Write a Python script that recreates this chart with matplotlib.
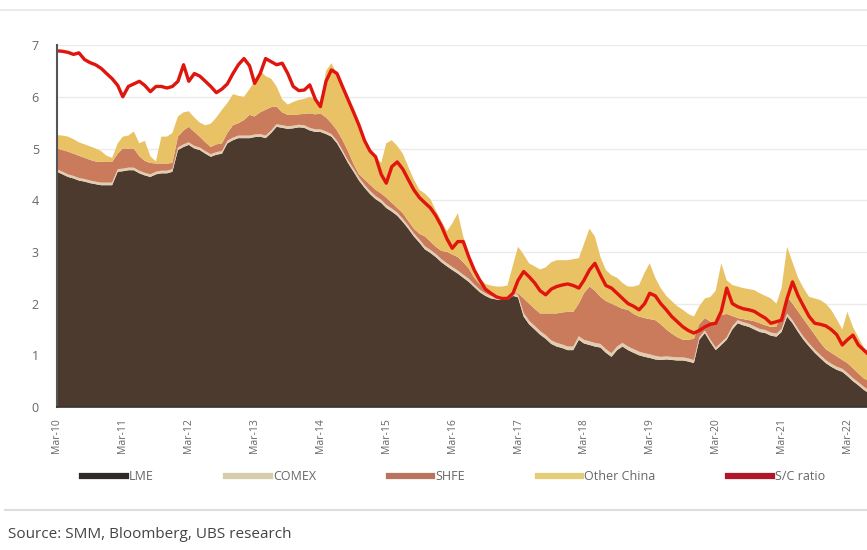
import numpy as np
import pandas as pd
import matplotlib
matplotlib.use("Agg")
import matplotlib.pyplot as plt
import matplotlib.dates as mdates
from matplotlib.lines import Line2D

plt.rcParams["font.family"] = ["Open Sans", "DejaVu Sans"]

# monthly, Mar-10 onwards
start = "2010-03-01"

# cumulative tops of the stack
lme_top = [
    4.55, 4.50, 4.45, 4.42, 4.38, 4.36, 4.33, 4.31, 4.29, 4.29, 4.29, 4.55, 4.56, 4.58, 4.58, 4.52,
    4.48, 4.45, 4.50, 4.52, 4.52, 4.55, 4.97, 5.03, 5.07, 5.00, 4.97, 4.90, 4.84, 4.88, 4.90, 5.10,
    5.16, 5.20, 5.20, 5.20, 5.22, 5.23, 5.20, 5.30, 5.42, 5.40, 5.38, 5.39, 5.41, 5.40, 5.35, 5.32,
    5.32, 5.28, 5.23, 5.10, 4.92, 4.72, 4.55, 4.38, 4.24, 4.12, 4.02, 3.95, 3.85, 3.78, 3.70, 3.58,
    3.45, 3.30, 3.18, 3.05, 2.98, 2.90, 2.80, 2.72, 2.65, 2.58, 2.50, 2.42, 2.32, 2.22, 2.15, 2.10,
    2.08, 2.07, 2.07, 2.15, 2.12, 1.75, 1.60, 1.50, 1.40, 1.32, 1.22, 1.17, 1.14, 1.10, 1.10, 1.30,
    1.23, 1.20, 1.17, 1.15, 1.05, 0.97, 1.10, 1.17, 1.10, 1.05, 1.00, 0.97, 0.95, 0.92, 0.91, 0.92,
    0.91, 0.90, 0.90, 0.88, 0.85, 1.30, 1.43, 1.25, 1.10, 1.20, 1.30, 1.50, 1.62, 1.58, 1.55, 1.50,
    1.45, 1.43, 1.38, 1.36, 1.45, 1.75, 1.62, 1.45, 1.30, 1.17, 1.05, 0.95, 0.85, 0.78, 0.72, 0.68,
    0.60, 0.50, 0.42, 0.33, 0.26,
]
comex = [
    0.05, 0.05, 0.05, 0.05, 0.05, 0.05, 0.05, 0.05, 0.05, 0.05, 0.05, 0.05, 0.05, 0.05, 0.05, 0.05,
    0.05, 0.05, 0.05, 0.05, 0.05, 0.05, 0.05, 0.05, 0.05, 0.05, 0.05, 0.05, 0.05, 0.05, 0.05, 0.05,
    0.05, 0.05, 0.05, 0.05, 0.05, 0.05, 0.05, 0.05, 0.05, 0.05, 0.05, 0.05, 0.05, 0.05, 0.05, 0.05,
    0.05, 0.05, 0.05, 0.05, 0.05, 0.05, 0.06, 0.06, 0.06, 0.06, 0.06, 0.06, 0.06, 0.06, 0.06, 0.06,
    0.06, 0.06, 0.06, 0.06, 0.06, 0.06, 0.06, 0.06, 0.06, 0.06, 0.06, 0.06, 0.05, 0.05, 0.05, 0.05,
    0.05, 0.05, 0.05, 0.05, 0.05, 0.07, 0.07, 0.07, 0.07, 0.07, 0.07, 0.07, 0.07, 0.07, 0.07, 0.07,
    0.07, 0.07, 0.07, 0.07, 0.07, 0.07, 0.07, 0.07, 0.07, 0.07, 0.07, 0.07, 0.07, 0.07, 0.06, 0.06,
    0.06, 0.06, 0.06, 0.06, 0.06, 0.05, 0.05, 0.05, 0.05, 0.05, 0.05, 0.06, 0.06, 0.06, 0.06, 0.06,
    0.06, 0.06, 0.06, 0.06, 0.06, 0.06, 0.06, 0.06, 0.06, 0.06, 0.06, 0.06, 0.06, 0.06, 0.06, 0.06,
    0.06, 0.06, 0.06, 0.06, 0.06,
]
shfe_top = [
    5.00, 4.97, 4.94, 4.90, 4.86, 4.82, 4.78, 4.75, 4.74, 4.74, 4.74, 4.90, 5.00, 5.00, 5.00, 4.85,
    4.76, 4.72, 4.71, 4.71, 4.71, 4.72, 5.23, 5.35, 5.42, 5.32, 5.23, 5.12, 5.03, 5.08, 5.10, 5.30,
    5.45, 5.49, 5.55, 5.65, 5.62, 5.70, 5.75, 5.80, 5.81, 5.70, 5.65, 5.65, 5.66, 5.67, 5.68, 5.66,
    5.68, 5.60, 5.49, 5.35, 5.17, 4.95, 4.70, 4.50, 4.40, 4.30, 4.20, 4.13, 4.05, 3.95, 3.85, 3.75,
    3.60, 3.45, 3.35, 3.30, 3.20, 3.10, 3.02, 3.00, 2.95, 2.90, 2.80, 2.68, 2.50, 2.38, 2.30, 2.20,
    2.13, 2.13, 2.13, 2.20, 2.20, 2.10, 2.00, 1.90, 1.81, 1.81, 1.81, 1.81, 1.83, 1.84, 1.84, 2.00,
    2.20, 2.33, 2.25, 2.13, 2.05, 2.00, 1.95, 1.90, 1.88, 1.80, 1.75, 1.72, 1.70, 1.68, 1.60, 1.50,
    1.42, 1.35, 1.30, 1.30, 1.32, 1.60, 1.72, 1.65, 1.62, 1.78, 1.80, 1.76, 1.72, 1.70, 1.68, 1.66,
    1.62, 1.58, 1.55, 1.56, 1.80, 2.13, 2.00, 1.85, 1.70, 1.55, 1.40, 1.25, 1.12, 1.05, 0.98, 0.91,
    0.85, 0.75, 0.65, 0.55, 0.50,
]
total_top = [
    5.26, 5.25, 5.23, 5.18, 5.12, 5.08, 5.04, 5.00, 4.95, 4.86, 4.82, 5.10, 5.23, 5.25, 5.33, 5.10,
    5.15, 4.85, 4.75, 5.23, 5.23, 5.30, 5.62, 5.70, 5.72, 5.60, 5.50, 5.45, 5.48, 5.60, 5.75, 5.88,
    6.05, 6.02, 6.00, 6.15, 6.30, 6.50, 6.40, 6.35, 6.20, 5.95, 5.85, 5.90, 5.94, 5.96, 6.00, 5.95,
    5.81, 6.50, 6.65, 6.45, 6.20, 6.00, 5.70, 5.45, 5.20, 5.00, 4.84, 4.72, 5.10, 5.16, 5.05, 4.90,
    4.65, 4.40, 4.20, 4.13, 4.02, 3.80, 3.60, 3.40, 3.55, 3.75, 3.30, 2.95, 2.70, 2.50, 2.38, 2.35,
    2.33, 2.33, 2.35, 2.75, 3.10, 2.95, 2.78, 2.72, 2.66, 2.70, 2.80, 2.84, 2.84, 2.84, 2.86, 2.88,
    3.15, 3.45, 3.30, 2.90, 2.65, 2.55, 2.50, 2.40, 2.33, 2.33, 2.36, 2.60, 2.78, 2.50, 2.30, 2.15,
    2.05, 1.95, 1.88, 1.80, 1.75, 1.95, 2.10, 2.13, 2.25, 2.78, 2.45, 2.36, 2.33, 2.30, 2.28, 2.26,
    2.20, 2.15, 2.10, 2.00, 2.30, 3.10, 2.80, 2.50, 2.30, 2.13, 2.10, 2.07, 2.00, 1.88, 1.70, 1.50,
    1.84, 1.55, 1.35, 1.15, 1.05,
]
sc_ratio = [
    6.89, 6.88, 6.86, 6.82, 6.85, 6.72, 6.66, 6.62, 6.55, 6.45, 6.35, 6.22, 6.00, 6.20, 6.25, 6.30,
    6.22, 6.10, 6.20, 6.20, 6.17, 6.20, 6.30, 6.62, 6.30, 6.45, 6.40, 6.30, 6.20, 6.08, 6.15, 6.25,
    6.45, 6.62, 6.74, 6.60, 6.26, 6.45, 6.74, 6.68, 6.62, 6.65, 6.45, 6.20, 6.12, 6.13, 6.23, 5.95,
    5.81, 6.30, 6.52, 6.45, 6.20, 5.95, 5.70, 5.45, 5.15, 4.95, 4.84, 4.50, 4.33, 4.65, 4.74, 4.60,
    4.40, 4.20, 4.05, 3.95, 3.85, 3.70, 3.50, 3.25, 3.07, 3.20, 3.20, 2.90, 2.65, 2.45, 2.28, 2.20,
    2.13, 2.10, 2.10, 2.20, 2.45, 2.62, 2.52, 2.40, 2.25, 2.17, 2.28, 2.33, 2.36, 2.38, 2.35, 2.30,
    2.45, 2.65, 2.78, 2.55, 2.35, 2.30, 2.20, 2.10, 2.00, 1.95, 1.88, 2.00, 2.20, 2.15, 2.00, 1.88,
    1.75, 1.65, 1.55, 1.48, 1.43, 1.48, 1.55, 1.60, 1.62, 1.85, 2.30, 2.00, 1.94, 1.90, 1.88, 1.85,
    1.78, 1.72, 1.62, 1.65, 1.68, 2.10, 2.42, 2.15, 1.95, 1.75, 1.62, 1.60, 1.57, 1.50, 1.40, 1.20,
    1.30, 1.39, 1.20, 1.10, 1.00,
]

labels = ["LME", "COMEX", "SHFE", "Other China", "S/C ratio"]
colors = ["#4b3a2d", "#e3cdb0", "#c97b5c", "#e9c266", "#df150e"]
legend_colors = ["#2e2a26", "#d6cdac", "#b9745f", "#e4cc78", "#b0182a"]

dates = pd.date_range(start, periods=len(sc_ratio), freq="MS")
lme = np.array(lme_top)
cmx = np.array(comex)
shfe = np.clip(np.array(shfe_top) - lme - cmx, 0, None)
other = np.clip(np.array(total_top) - np.array(shfe_top), 0, None)

fig = plt.figure(figsize=(8.67, 5.5), dpi=100)
ax = fig.add_axes([0.0657, 0.26, 0.9343, 0.658])

ax.stackplot(dates, lme, cmx, shfe, other, colors=colors[:4], linewidth=0)
ax.plot(dates, sc_ratio, color=colors[4], lw=2.4)

ax.set_ylim(0, 7)
ax.set_xlim(dates[0], pd.Timestamp("2022-06-18"))
ax.set_yticks(range(8))
ax.yaxis.grid(True, color="#ebebeb", lw=1)
ax.set_axisbelow(True)
ax.xaxis.set_major_locator(mdates.MonthLocator(bymonth=3))
ax.xaxis.set_major_formatter(mdates.DateFormatter("%b-%y"))
ax.tick_params(axis="x", labelrotation=90, labelsize=7.5, colors="#666666", length=0, pad=8)
ax.tick_params(axis="y", labelsize=9, colors="#666666", length=0, pad=13)
for s in ["top", "right"]:
    ax.spines[s].set_visible(False)
ax.spines["left"].set_color("#555555")
ax.spines["left"].set_linewidth(1.5)
ax.spines["bottom"].set_color("#333333")
ax.spines["bottom"].set_linewidth(1.2)

handles = [Line2D([], [], color=c, lw=4.5) for c in legend_colors]
fig.legend(handles, labels, loc="center", bbox_to_anchor=(0.523, 0.133), ncol=5,
           frameon=False, fontsize=9, handlelength=3.5, handletextpad=0.25,
           columnspacing=5.8, labelcolor="#666666")

fig.add_artist(Line2D([0.0, 1.0], [0.982, 0.982], color="#e6e6e6", lw=1.2))
fig.add_artist(Line2D([0.006, 1.0], [0.073, 0.073], color="#dddddd", lw=1.5))
fig.text(0.009, 0.022, "Source: SMM, Bloomberg, UBS research", fontsize=11, color="#444444")

fig.savefig("out.png", dpi=100)
